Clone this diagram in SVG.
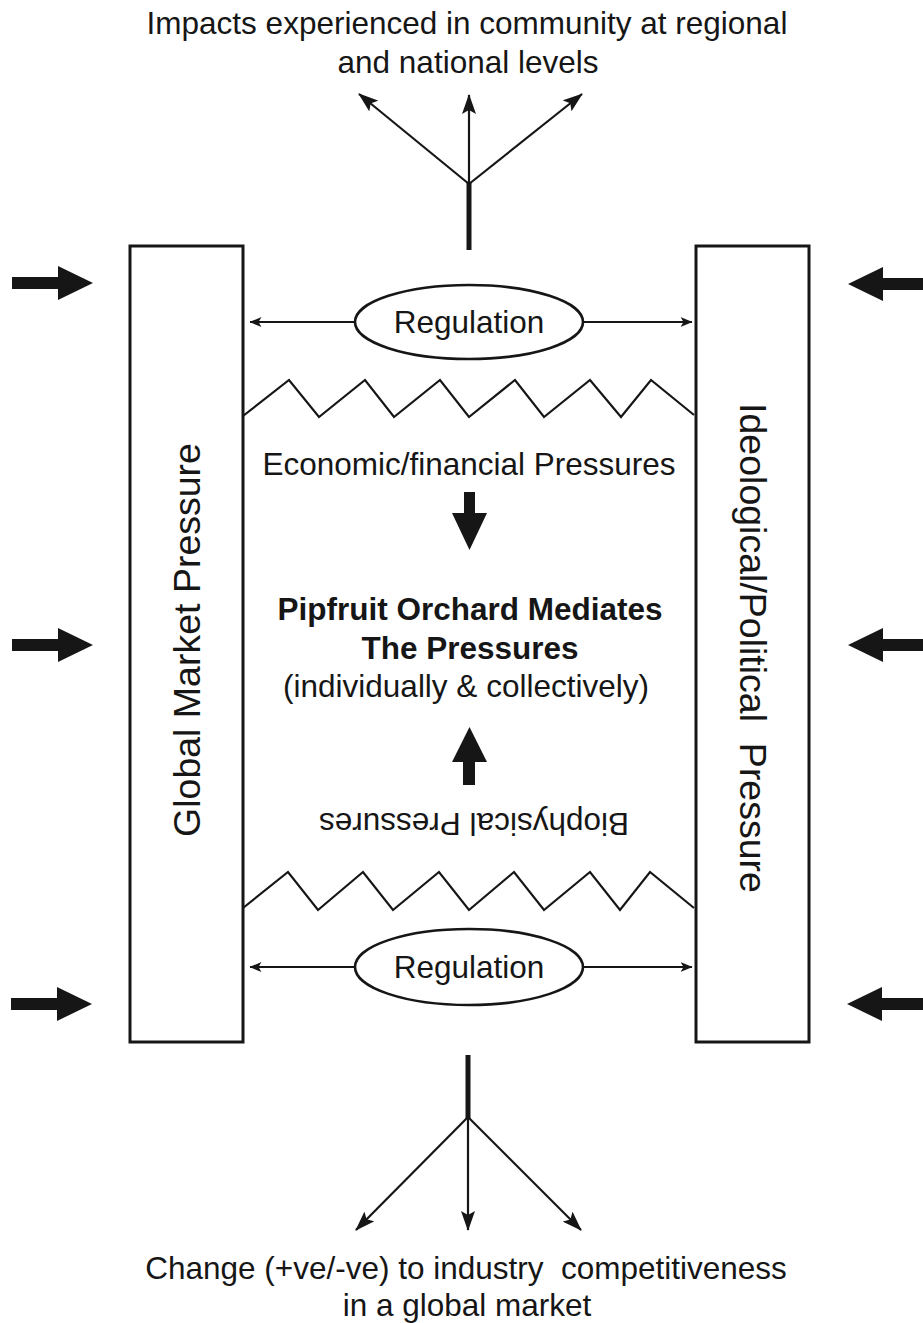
<svg xmlns="http://www.w3.org/2000/svg" width="923" height="1323" viewBox="0 0 923 1323">
  <style>
    .txt { font-family: "Liberation Sans", Arial, Helvetica, sans-serif; fill: #161616; }
    .h { font-size: 31.5px; text-anchor: middle; }
    .b { font-weight: bold; }
    .v { font-size: 37.5px; text-anchor: middle; white-space: pre; }
    .pre { white-space: pre; }
    .box { fill: #fff; stroke: #161616; stroke-width: 3; }
    .oval { fill: #fff; stroke: #161616; stroke-width: 2.6; }
    .thin { fill: none; stroke: #161616; stroke-width: 1.8; }
    .fan { fill: none; stroke: #161616; stroke-width: 2.2; }
    .stem { fill: none; stroke: #161616; stroke-width: 5; }
    .zig { fill: none; stroke: #161616; stroke-width: 2.2; stroke-linejoin: miter; }
    .block { fill: #161616; }
  </style>
  <defs>
    <marker id="head" viewBox="0 0 20 14" refX="19" refY="7" markerWidth="20" markerHeight="14" markerUnits="userSpaceOnUse" orient="auto">
      <path d="M0,0 L20,7 L0,14 L4,7 z" fill="#161616"/>
    </marker>
    <marker id="small" viewBox="0 0 12 10" refX="11.5" refY="5" markerWidth="12" markerHeight="10" markerUnits="userSpaceOnUse" orient="auto-start-reverse">
      <path d="M0,0 L12,5 L0,10 L3,5 z" fill="#161616"/>
    </marker>
    <!-- thick block arrow pointing right, tip at origin -->
    <path id="blockR" d="M-81,-6 L-35,-6 L-35,-17 L0,0 L-35,17 L-35,6 L-81,6 z"/>
  </defs>

  <!-- outcome labels -->
  <g id="impacts">
    <text class="txt h" x="467" y="34">Impacts experienced in community at regional</text>
    <text class="txt h" x="468" y="73">and national levels</text>
  </g>
  <g id="competitiveness">
    <text class="txt h pre" x="466" y="1279">Change (+ve/-ve) to industry  competitiveness</text>
    <text class="txt h" x="467" y="1316">in a global market</text>
  </g>

  <!-- side pressure columns -->
  <g id="global-market">
    <rect class="box" x="130" y="246" width="113" height="796"/>
    <text class="txt v" transform="translate(200,640) rotate(-90)">Global Market Pressure</text>
  </g>
  <g id="ideological">
    <rect class="box" x="696" y="246" width="113" height="796"/>
    <text class="txt v" transform="translate(740,648) rotate(90)">Ideological/Political  Pressure</text>
  </g>

  <!-- pressure boundaries -->
  <g id="boundaries">
    <polyline class="zig" points="243,416 289,380 319,417 365,380 394,417 440,380 469,417 515,380 544,417 590,380 621,417 651,380 694,415"/>
    <polyline class="zig" points="243,908 288,872 318,910 363,872 393,910 439,872 469,910 514,872 544,910 590,872 620,910 650,872 694,908"/>
  </g>

  <!-- central mediation -->
  <g id="economic">
    <text class="txt h" x="469" y="475">Economic/financial Pressures</text>
  </g>
  <g id="orchard">
    <text class="txt h b" x="470" y="620">Pipfruit Orchard Mediates</text>
    <text class="txt h b" x="470" y="659">The Pressures</text>
    <text class="txt h" x="466" y="697">(individually &amp; collectively)</text>
  </g>
  <g id="biophysical">
    <text class="txt h" transform="rotate(180,474,825)" x="474" y="837">Biophysical Pressures</text>
  </g>

  <!-- regulation nodes -->
  <g id="regulation-top">
    <ellipse class="oval" cx="469" cy="322" rx="114" ry="37"/>
    <text class="txt h" x="469" y="333">Regulation</text>
  </g>
  <g id="regulation-bottom">
    <ellipse class="oval" cx="469" cy="967" rx="114" ry="38"/>
    <text class="txt h" x="469" y="978">Regulation</text>
  </g>

  <!-- connectors -->
  <g id="connectors">
    <!-- regulation reaching both columns -->
    <line class="thin" x1="355" y1="322" x2="250" y2="322" marker-end="url(#small)"/>
    <line class="thin" x1="583" y1="322" x2="692" y2="322" marker-end="url(#small)"/>
    <line class="thin" x1="355" y1="967" x2="250" y2="967" marker-end="url(#small)"/>
    <line class="thin" x1="583" y1="967" x2="692" y2="967" marker-end="url(#small)"/>

    <!-- upward fan to community impacts -->
    <line class="stem" x1="469" y1="250" x2="469" y2="182"/>
    <line class="fan" x1="469" y1="184" x2="359" y2="94" marker-end="url(#head)"/>
    <line class="fan" x1="469" y1="184" x2="469" y2="95" marker-end="url(#head)"/>
    <line class="fan" x1="469" y1="184" x2="582" y2="94" marker-end="url(#head)"/>

    <!-- downward fan to competitiveness -->
    <line class="stem" x1="468" y1="1055" x2="468" y2="1119"/>
    <line class="fan" x1="468" y1="1117" x2="356" y2="1230" marker-end="url(#head)"/>
    <line class="fan" x1="468" y1="1117" x2="468" y2="1230" marker-end="url(#head)"/>
    <line class="fan" x1="468" y1="1117" x2="581" y2="1230" marker-end="url(#head)"/>

    <!-- pressures pushing into the orchard -->
    <path class="block" d="M464,492 L475,492 L475,513 L487,513 L469.5,550 L452,513 L464,513 z"/>
    <path class="block" d="M463,785 L475,785 L475,762 L487,762 L469.5,727 L452,762 L463,762 z"/>

    <!-- external pressures on the columns -->
    <use href="#blockR" class="block" transform="translate(93,283)"/>
    <use href="#blockR" class="block" transform="translate(93,645)"/>
    <use href="#blockR" class="block" transform="translate(92,1004)"/>
    <use href="#blockR" class="block" transform="translate(848,284) scale(-1,1)"/>
    <use href="#blockR" class="block" transform="translate(848,645) scale(-1,1)"/>
    <use href="#blockR" class="block" transform="translate(847,1004) scale(-1,1)"/>
  </g>
</svg>
